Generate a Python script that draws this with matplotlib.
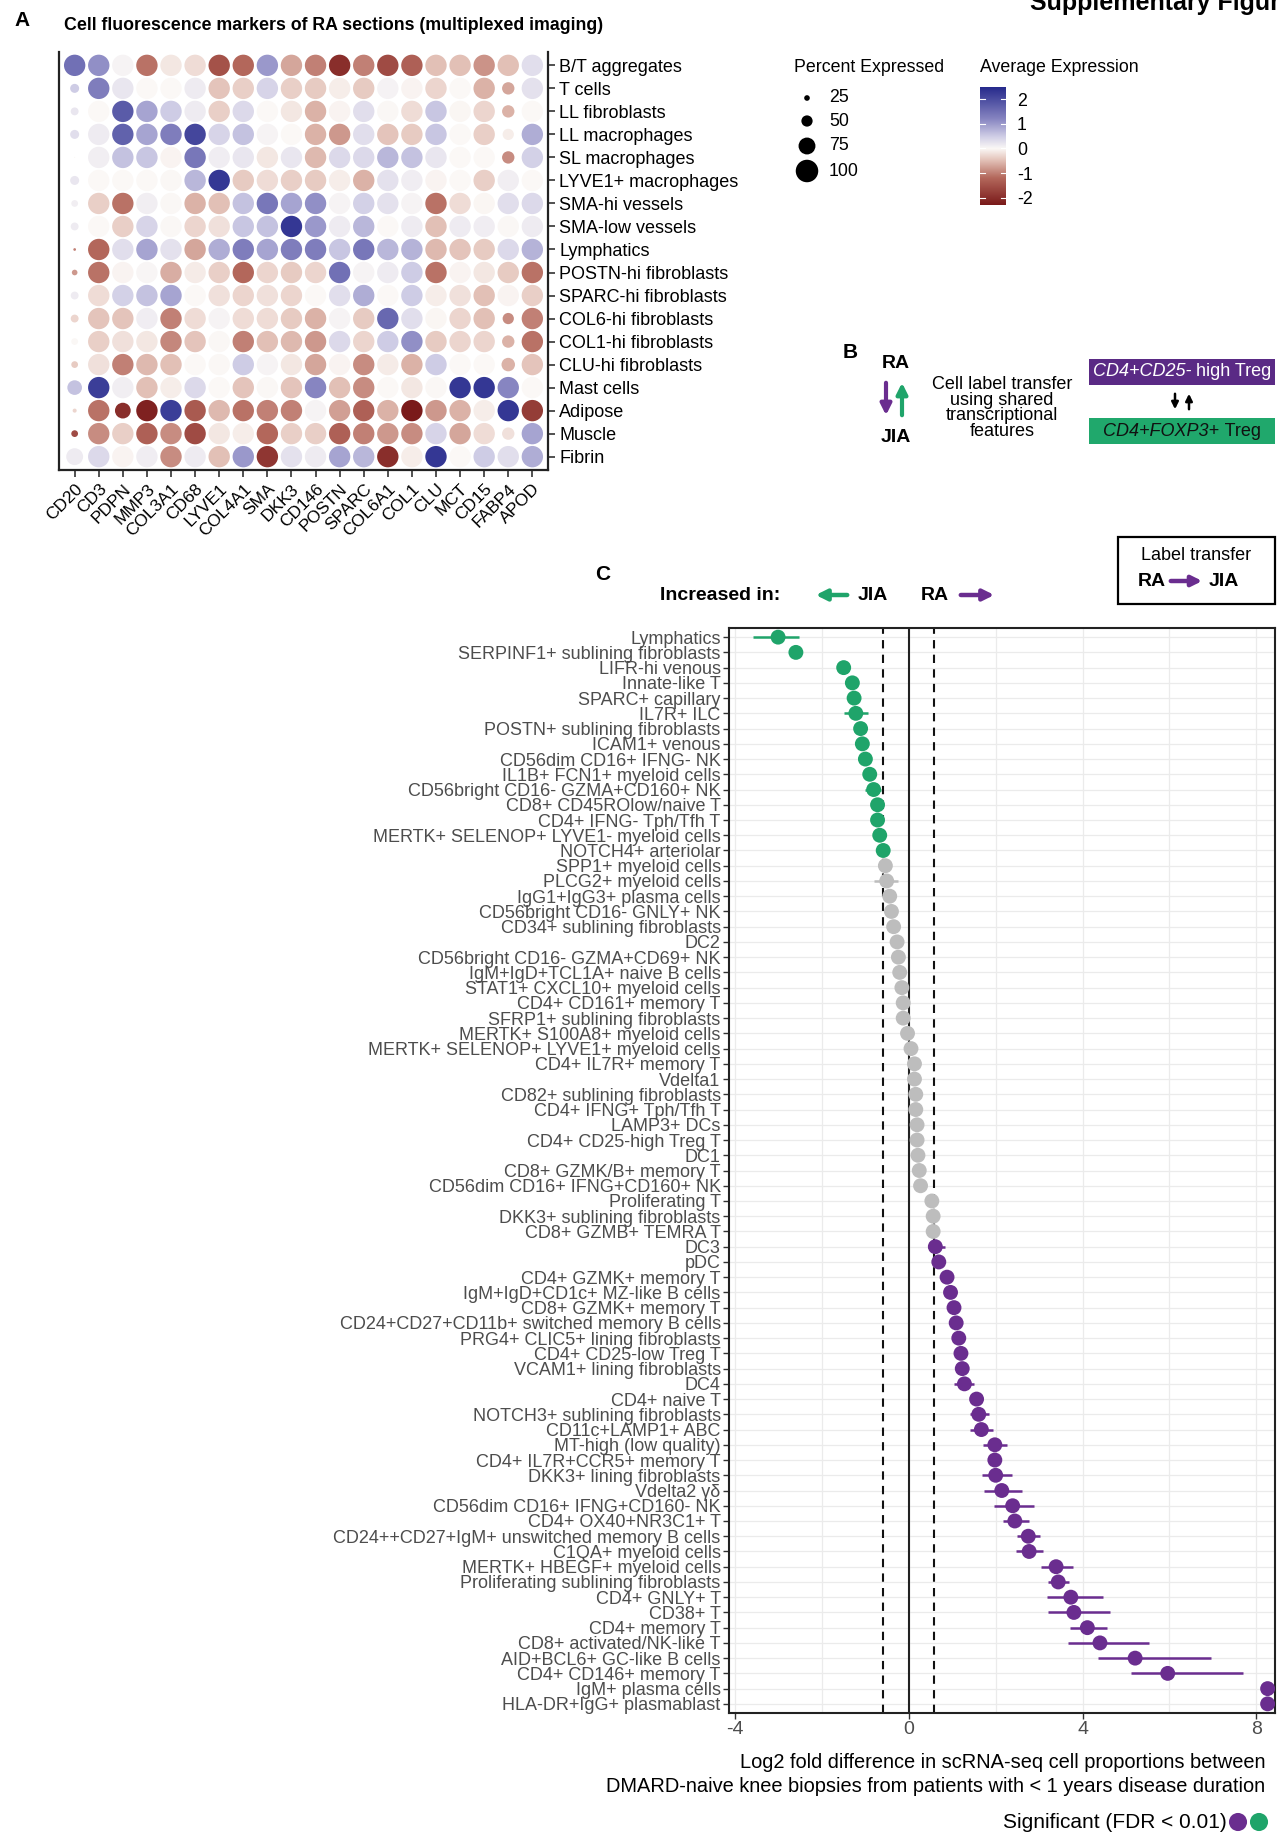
import matplotlib
matplotlib.use("Agg")
import matplotlib.pyplot as plt
import numpy as np
from matplotlib.colors import LinearSegmentedColormap, Normalize
from matplotlib.patches import Rectangle

plt.rcParams['font.family'] = ['Liberation Sans', 'DejaVu Sans']

# ---------------- Panel A data: marker dot plot ----------------
markers = ["CD20", "CD3", "PDPN", "MMP3", "COL3A1", "CD68", "LYVE1", "COL4A1", "SMA", "DKK3",
           "CD146", "POSTN", "SPARC", "COL6A1", "COL1", "CLU", "MCT", "CD15", "FABP4", "APOD"]
clusters = ["B/T aggregates", "T cells", "LL fibroblasts", "LL macrophages", "SL macrophages",
            "LYVE1+ macrophages", "SMA-hi vessels", "SMA-low vessels", "Lymphatics",
            "POSTN-hi fibroblasts", "SPARC-hi fibroblasts", "COL6-hi fibroblasts",
            "COL1-hi fibroblasts", "CLU-hi fibroblasts", "Mast cells", "Adipose", "Muscle", "Fibrin"]

avg_expr = [
    [1.5, 1.1, 0.05, -1.1, -0.15, -0.25, -1.5, -1.2, 1.0, -0.7, -1.0, -2.0, -1.0, -1.6, -1.3, -0.5, -0.5, -0.85, -0.5, 0.3],
    [0.5, 1.3, 0.2, 0.0, 0.0, 0.15, -0.45, -0.35, 0.4, -0.35, -0.4, -0.1, -0.4, 0.08, -0.05, -0.3, 0.0, -0.6, -0.7, 0.25],
    [0.2, 0.0, 1.8, 0.9, 0.5, 0.15, -0.35, 0.35, 0.0, -0.15, -0.6, -0.05, 0.3, 0.02, -0.25, 0.55, -0.03, -0.3, -0.6, 0.0],
    [0.3, 0.15, 1.7, 0.9, 1.3, 2.1, 0.4, 0.6, 0.05, 0.0, -0.6, -0.8, 0.3, -0.45, -0.4, 0.55, 0.0, -0.35, -0.1, 0.8],
    [0.0, 0.1, 0.6, 0.55, -0.05, 1.4, 0.12, 0.2, -0.15, 0.2, -0.55, 0.35, 0.35, 0.7, 0.6, 0.2, 0.0, 0.0, -0.9, 0.45],
    [0.2, 0.0, 0.0, 0.0, 0.02, 0.7, 2.3, -0.4, -0.25, -0.35, -0.4, -0.1, -0.6, 0.25, 0.12, -0.05, 0.0, -0.35, 0.1, 0.0],
    [0.1, -0.35, -1.1, 0.1, 0.02, -0.6, -0.5, 0.6, 1.4, 0.9, 1.1, 0.05, 0.45, 0.25, 0.05, -1.1, -0.25, -0.03, 0.3, 0.35],
    [0.15, 0.0, -0.35, 0.4, 0.02, -0.3, -0.2, 0.55, 0.6, 2.3, 1.0, 0.15, 0.7, 0.0, 0.15, -0.5, 0.15, 0.12, 0.02, 0.15],
    [-1.0, -1.2, 0.3, 0.9, 0.25, -0.7, 0.8, 1.3, 0.9, 1.3, 1.3, 0.55, 1.4, 0.7, 0.75, -0.55, -0.45, -0.4, 0.35, 0.75],
    [-0.8, -1.1, -0.05, 0.03, -0.65, -0.12, -0.35, -1.2, -0.3, -0.4, -0.3, 1.5, 0.05, 0.15, 0.5, -1.1, -0.05, -0.15, -0.4, -1.1],
    [0.15, -0.25, 0.45, 0.6, 0.9, 0.0, -0.2, -0.3, -0.2, -0.3, 0.0, 0.3, 0.8, 0.0, 0.5, -0.1, -0.2, -0.5, -0.05, -0.35],
    [-0.3, -0.45, -0.45, 0.12, -1.0, -0.25, 0.05, -0.25, -0.25, -0.4, -0.6, 0.05, -0.4, 1.6, 0.3, -0.03, -0.3, -0.5, -0.9, -1.0],
    [0.02, -0.35, -0.2, -0.15, -0.95, -0.45, 0.02, -1.0, -0.5, -0.55, -0.8, 0.35, -0.3, 0.5, 1.1, -0.4, -0.3, -0.3, -0.6, -1.1],
    [-0.4, -0.2, -1.0, -0.55, -0.5, 0.0, 0.02, 0.5, 0.05, -0.15, -0.7, -0.05, -0.9, -0.12, -0.6, 0.5, 0.0, 0.0, -0.6, -0.45],
    [0.6, 2.2, 0.1, -0.5, -0.1, 0.35, 0.0, -0.45, 0.02, -0.45, 1.2, -0.5, -0.9, 0.0, -0.15, 0.02, 2.3, 2.3, 1.2, 0.0],
    [-0.3, -1.1, -2.0, -2.2, 2.2, -1.4, -0.55, -1.1, -1.0, -1.0, 0.05, -0.75, -1.3, -0.6, -2.3, -0.8, -0.6, -0.1, 2.3, -1.8],
    [-1.6, -0.9, -0.35, -1.3, -0.9, -1.6, -0.15, -0.1, -1.2, -0.35, -0.35, -1.3, -1.0, -0.8, -0.9, 0.4, -0.7, -0.25, -0.2, 0.9],
    [0.15, 0.35, -0.05, 0.12, -0.9, 0.15, -0.5, 1.0, -1.9, 0.25, 0.15, 0.9, 0.7, -2.0, -0.1, 2.3, 0.0, 0.5, 0.3, 0.8],
]

pct_expr = [
    [95, 95, 95, 95, 95, 95, 95, 95, 95, 95, 95, 95, 95, 95, 95, 95, 95, 95, 95, 95],
    [40, 95, 95, 95, 95, 95, 95, 95, 95, 95, 95, 95, 95, 95, 95, 95, 95, 95, 55, 95],
    [35, 95, 95, 95, 95, 95, 95, 95, 95, 95, 95, 95, 95, 95, 95, 95, 95, 95, 55, 95],
    [40, 95, 95, 95, 95, 95, 95, 95, 95, 95, 95, 95, 95, 95, 95, 95, 95, 95, 50, 95],
    [5, 95, 95, 95, 95, 95, 95, 95, 95, 95, 95, 95, 95, 95, 95, 95, 95, 95, 55, 95],
    [40, 95, 95, 95, 95, 95, 95, 95, 95, 95, 95, 95, 95, 95, 95, 95, 95, 95, 95, 95],
    [30, 95, 95, 95, 95, 95, 95, 95, 95, 95, 95, 95, 95, 95, 95, 95, 95, 95, 95, 95],
    [35, 95, 95, 95, 95, 95, 95, 95, 95, 95, 95, 95, 95, 95, 95, 95, 95, 95, 95, 95],
    [12, 95, 95, 95, 95, 95, 95, 95, 95, 95, 95, 95, 95, 95, 95, 95, 95, 95, 95, 95],
    [25, 95, 95, 95, 95, 95, 95, 95, 95, 95, 95, 95, 95, 95, 95, 95, 95, 95, 95, 95],
    [35, 95, 95, 95, 95, 95, 95, 95, 95, 95, 95, 95, 95, 95, 95, 95, 95, 95, 95, 95],
    [35, 95, 95, 95, 95, 95, 95, 95, 95, 95, 95, 95, 95, 95, 95, 95, 95, 95, 50, 95],
    [30, 95, 95, 95, 95, 95, 95, 95, 95, 95, 95, 95, 95, 95, 95, 95, 95, 95, 55, 95],
    [30, 95, 95, 95, 95, 95, 95, 95, 95, 95, 95, 95, 95, 95, 95, 95, 95, 95, 60, 95],
    [65, 95, 95, 95, 95, 95, 95, 95, 95, 95, 95, 95, 95, 95, 95, 95, 95, 95, 95, 95],
    [18, 95, 70, 95, 95, 95, 95, 95, 95, 95, 95, 95, 95, 95, 95, 95, 95, 95, 95, 95],
    [30, 95, 95, 95, 95, 95, 95, 95, 95, 95, 95, 95, 95, 95, 95, 95, 95, 95, 55, 95],
    [75, 95, 95, 95, 95, 95, 95, 95, 95, 95, 95, 95, 95, 95, 95, 95, 95, 95, 95, 95],
]

size_breaks = [25, 50, 75, 100]
color_breaks = [2, 1, 0, -1, -2]

# ---------------- Panel C data: label-transfer abundance ----------------
cell_types = [
    "Lymphatics", "SERPINF1+ sublining fibroblasts", "LIFR-hi venous", "Innate-like T",
    "SPARC+ capillary", "IL7R+ ILC", "POSTN+ sublining fibroblasts", "ICAM1+ venous",
    "CD56dim CD16+ IFNG- NK", "IL1B+ FCN1+ myeloid cells", "CD56bright CD16- GZMA+CD160+ NK",
    "CD8+ CD45ROlow/naive T", "CD4+ IFNG- Tph/Tfh T", "MERTK+ SELENOP+ LYVE1- myeloid cells",
    "NOTCH4+ arteriolar", "SPP1+ myeloid cells", "PLCG2+ myeloid cells", "IgG1+IgG3+ plasma cells",
    "CD56bright CD16- GNLY+ NK", "CD34+ sublining fibroblasts", "DC2",
    "CD56bright CD16- GZMA+CD69+ NK", "IgM+IgD+TCL1A+ naive B cells", "STAT1+ CXCL10+ myeloid cells",
    "CD4+ CD161+ memory T", "SFRP1+ sublining fibroblasts", "MERTK+ S100A8+ myeloid cells",
    "MERTK+ SELENOP+ LYVE1+ myeloid cells", "CD4+ IL7R+ memory T", "Vdelta1",
    "CD82+ sublining fibroblasts", "CD4+ IFNG+ Tph/Tfh T", "LAMP3+ DCs", "CD4+ CD25-high Treg T",
    "DC1", "CD8+ GZMK/B+ memory T", "CD56dim CD16+ IFNG+CD160+ NK", "Proliferating T",
    "DKK3+ sublining fibroblasts", "CD8+ GZMB+ TEMRA T", "DC3", "pDC", "CD4+ GZMK+ memory T",
    "IgM+IgD+CD1c+ MZ-like B cells", "CD8+ GZMK+ memory T", "CD24+CD27+CD11b+ switched memory B cells",
    "PRG4+ CLIC5+ lining fibroblasts", "CD4+ CD25-low Treg T", "VCAM1+ lining fibroblasts", "DC4",
    "CD4+ naive T", "NOTCH3+ sublining fibroblasts", "CD11c+LAMP1+ ABC", "MT-high (low quality)",
    "CD4+ IL7R+CCR5+ memory T", "DKK3+ lining fibroblasts", "Vdelta2 γδ",
    "CD56dim CD16+ IFNG+CD160- NK", "CD4+ OX40+NR3C1+ T", "CD24++CD27+IgM+ unswitched memory B cells",
    "C1QA+ myeloid cells", "MERTK+ HBEGF+ myeloid cells", "Proliferating sublining fibroblasts",
    "CD4+ GNLY+ T", "CD38+ T", "CD4+ memory T", "CD8+ activated/NK-like T",
    "AID+BCL6+ GC-like B cells", "CD4+ CD146+ memory T", "IgM+ plasma cells", "HLA-DR+IgG+ plasmablast",
]

log2_fd = [
    -3.01, -2.60, -1.50, -1.30, -1.26, -1.22, -1.11, -1.07, -1.00, -0.90,
    -0.81, -0.72, -0.72, -0.67, -0.59, -0.54, -0.51, -0.44, -0.40, -0.35,
    -0.27, -0.24, -0.21, -0.16, -0.13, -0.13, -0.03, 0.05, 0.13, 0.13,
    0.16, 0.16, 0.19, 0.19, 0.21, 0.24, 0.27, 0.53, 0.56, 0.56,
    0.61, 0.69, 0.88, 0.96, 1.04, 1.09, 1.15, 1.20, 1.23, 1.28,
    1.56, 1.61, 1.67, 1.98, 1.98, 2.00, 2.14, 2.39, 2.44, 2.75,
    2.77, 3.39, 3.44, 3.73, 3.80, 4.11, 4.40, 5.21, 5.96, 8.26, 8.26,
]

ci_low = [
    -3.59, -2.70, -1.60, -1.40, -1.36, -1.50, -1.21, -1.17, -1.10, -1.00,
    -1.00, -0.82, -0.82, -0.77, -0.69, -0.64, -0.81, -0.54, -0.50, -0.45,
    -0.37, -0.34, -0.31, -0.26, -0.23, -0.23, -0.13, -0.05, 0.03, 0.03,
    0.06, 0.06, 0.09, 0.09, 0.11, 0.14, 0.17, 0.43, 0.46, 0.46,
    0.43, 0.59, 0.78, 0.86, 0.94, 0.99, 1.05, 1.10, 1.13, 1.05,
    1.46, 1.41, 1.41, 1.71, 1.88, 1.69, 1.72, 1.96, 2.17, 2.48,
    2.46, 3.04, 3.21, 3.17, 3.21, 3.72, 3.66, 4.35, 5.11, 8.16, 8.16,
]

ci_high = [
    -2.53, -2.50, -1.40, -1.20, -1.16, -0.95, -1.01, -0.97, -0.90, -0.80,
    -0.63, -0.62, -0.62, -0.57, -0.49, -0.44, -0.24, -0.34, -0.30, -0.25,
    -0.17, -0.14, -0.11, -0.06, -0.03, -0.03, 0.07, 0.15, 0.23, 0.23,
    0.26, 0.26, 0.29, 0.29, 0.31, 0.34, 0.37, 0.63, 0.66, 0.66,
    0.83, 0.79, 0.98, 1.06, 1.14, 1.19, 1.25, 1.30, 1.33, 1.50,
    1.66, 1.84, 1.93, 2.27, 2.08, 2.37, 2.60, 2.88, 2.76, 3.02,
    3.10, 3.79, 3.69, 4.47, 4.62, 4.56, 5.54, 6.95, 7.70, 8.36, 8.36,
]

significant = [True] * 15 + [False] * 25 + [True] * 31

GREEN = "#1fa46a"
PURPLE = "#6a2d8f"
GREY = "#bdbdbd"

# ---------------- figure scaffolding (pixel helpers) ----------------
W, H = 1278, 1832
fig = plt.figure(figsize=(W / 100, H / 100), dpi=100)


def ax_box(x0, y0, x1, y1):
    return [x0 / W, 1 - y1 / H, (x1 - x0) / W, (y1 - y0) / H]


over = fig.add_axes([0, 0, 1, 1], zorder=5)
over.set_xlim(0, W)
over.set_ylim(H, 0)
over.axis("off")
over.patch.set_alpha(0)

# page header running off the top edge
over.text(1030, 10, "Supplementary Figure", fontsize=18, fontweight="bold",
          ha="left", va="baseline", clip_on=True)

# ---------------- Panel A ----------------
cmap = LinearSegmentedColormap.from_list(
    "expr",
    [(0.0, "#7a1a1a"), (0.23, "#b4685c"), (0.38, "#e3c2b8"), (0.479, "#fbf8f6"),
     (0.58, "#d0cee6"), (0.73, "#8785c1"), (1.0, "#262a8c")])
norm = Normalize(vmin=-2.3, vmax=2.5)


def size_pts(pct):
    d_px = 0.225 * np.asarray(pct, dtype=float)
    return (d_px * 0.72) ** 2


ax_a = fig.add_axes(ax_box(59, 52, 548, 470))
expr = np.array(avg_expr)
pct = np.array(pct_expr)
xx, yy = np.meshgrid(np.arange(1, len(markers) + 1), np.arange(1, len(clusters) + 1))
ax_a.scatter(xx.ravel(), yy.ravel(), s=size_pts(pct.ravel()), c=expr.ravel(),
             cmap=cmap, norm=norm, edgecolors="none", zorder=3)
ax_a.set_xlim(0.35, len(markers) + 0.65)
ax_a.set_ylim(len(clusters) + 0.58, 0.42)
ax_a.set_xticks(np.arange(1, len(markers) + 1))
ax_a.set_xticklabels(markers, rotation=45, ha="right", va="top", rotation_mode="anchor", fontsize=12.5)
ax_a.yaxis.tick_right()
ax_a.set_yticks(np.arange(1, len(clusters) + 1))
ax_a.set_yticklabels(clusters, fontsize=13)
ax_a.tick_params(axis="both", length=5, width=1.1, color="#222222", pad=3)
ax_a.spines["top"].set_visible(False)
for s in ["left", "right", "bottom"]:
    ax_a.spines[s].set_linewidth(1.6)
    ax_a.spines[s].set_color("#222222")

over.text(14, 21, "A", fontsize=15, fontweight="bold", ha="left", va="center")
over.text(64, 26, "Cell fluorescence markers of RA sections (multiplexed imaging)",
          fontsize=12.8, fontweight="bold", ha="left", va="center")

# size legend
over.text(794, 67, "Percent Expressed", fontsize=12.8, ha="left", va="center")
for yv, b in zip([98, 121, 146, 171], size_breaks):
    over.scatter([807], [yv], s=size_pts([b]), c="black", edgecolors="none")
    over.text(829, yv, str(b), fontsize=12.8, ha="left", va="center")

# colour bar
over.text(980, 67, "Average Expression", fontsize=12.8, ha="left", va="center")
ax_cb = fig.add_axes(ax_box(980, 87, 1006, 205))
grad = np.linspace(norm.vmax, norm.vmin, 256).reshape(-1, 1)
ax_cb.imshow(grad, aspect="auto", cmap=cmap, norm=norm,
             extent=[0, 1, norm.vmin, norm.vmax], origin="upper")
ax_cb.set_xlim(0, 1)
ax_cb.set_ylim(norm.vmin, norm.vmax)
ax_cb.set_xticks([])
ax_cb.yaxis.tick_right()
ax_cb.set_yticks(color_breaks)
ax_cb.set_yticklabels([str(v) for v in color_breaks], fontsize=12.8)
ax_cb.tick_params(axis="y", length=0, pad=8)
for v in color_breaks:
    ax_cb.plot([0, 0.2], [v, v], color="white", lw=0.8)
    ax_cb.plot([0.8, 1], [v, v], color="white", lw=0.8)
for s in ax_cb.spines.values():
    s.set_visible(False)

# ---------------- Panel B ----------------
renderer = fig.canvas.get_renderer()


def centred_mixed(x, y, parts, color, size):
    items = [over.text(0, y, txt, fontstyle=st, fontsize=size, color=color,
                       ha="left", va="center", zorder=7) for txt, st in parts]
    inv = over.transData.inverted()
    widths = []
    for t in items:
        bb = t.get_window_extent(renderer)
        p0 = inv.transform((bb.x0, bb.y0))
        p1 = inv.transform((bb.x1, bb.y1))
        widths.append(p1[0] - p0[0])
    cur = x - sum(widths) / 2
    for t, w in zip(items, widths):
        t.set_x(cur)
        cur += w


over.text(850, 352, "B", fontsize=15, fontweight="bold", ha="center", va="center")
over.text(896, 363, "RA", fontsize=14, fontweight="bold", ha="center", va="center")
over.text(896, 437, "JIA", fontsize=14, fontweight="bold", ha="center", va="center")
over.annotate("", xy=(886, 418), xytext=(886, 380),
              arrowprops=dict(arrowstyle="-|>", color=PURPLE, lw=3, mutation_scale=16))
over.annotate("", xy=(902, 380), xytext=(902, 418),
              arrowprops=dict(arrowstyle="-|>", color=GREEN, lw=3, mutation_scale=16))
over.text(1002, 408, "Cell label transfer\nusing shared\ntranscriptional\nfeatures",
          fontsize=13, ha="center", va="center", linespacing=0.92)
over.add_patch(Rectangle((1089, 359), 186, 26, facecolor="#5a2a85", edgecolor="none"))
centred_mixed(1182, 372, [("CD4+CD25-", "italic"), (" high Treg", "normal")], "white", 13)
over.annotate("", xy=(1175, 412), xytext=(1175, 391),
              arrowprops=dict(arrowstyle="-|>", color="black", lw=1.8, mutation_scale=10))
over.annotate("", xy=(1189, 391), xytext=(1189, 412),
              arrowprops=dict(arrowstyle="-|>", color="black", lw=1.8, mutation_scale=10))
over.add_patch(Rectangle((1089, 418), 186, 26, facecolor="#20a86c", edgecolor="none"))
centred_mixed(1182, 431, [("CD4+FOXP3+", "italic"), (" Treg", "normal")], "#111111", 13)

# ---------------- Panel C ----------------
over.text(603, 575, "C", fontsize=15, fontweight="bold", ha="center", va="center")
over.text(660, 595, "Increased in:", fontsize=14, fontweight="bold", ha="left", va="center")
over.annotate("", xy=(813, 595), xytext=(850, 595),
              arrowprops=dict(arrowstyle="-|>", color=GREEN, lw=3.2, mutation_scale=16))
over.text(858, 596, "JIA", fontsize=14, fontweight="bold", ha="left", va="center")
over.text(921, 596, "RA", fontsize=14, fontweight="bold", ha="left", va="center")
over.annotate("", xy=(997, 595), xytext=(958, 595),
              arrowprops=dict(arrowstyle="-|>", color=PURPLE, lw=3.2, mutation_scale=16))

over.add_patch(Rectangle((1118, 537), 157, 67, facecolor="none", edgecolor="black", lw=1.6))
over.text(1196, 555, "Label transfer", fontsize=13, ha="center", va="center")
over.text(1138, 581, "RA", fontsize=14, fontweight="bold", ha="left", va="center")
over.annotate("", xy=(1205, 581), xytext=(1168, 581),
              arrowprops=dict(arrowstyle="-|>", color=PURPLE, lw=3.2, mutation_scale=15))
over.text(1209, 581, "JIA", fontsize=14, fontweight="bold", ha="left", va="center")

ax_c = fig.add_axes(ax_box(729, 628, 1275, 1713))
n = len(cell_types)
rows = np.arange(1, n + 1)
cols = [GREY if not sig else (GREEN if v < 0 else PURPLE) for v, sig in zip(log2_fd, significant)]
for r, lo, hi, c in zip(rows, ci_low, ci_high, cols):
    ax_c.plot([lo, hi], [r, r], color=c, lw=1.8, solid_capstyle="butt", zorder=3)
ax_c.scatter(log2_fd, rows, s=115, c=cols, edgecolors="none", zorder=4)
ax_c.axvline(0, color="#222222", lw=1.5, zorder=2)
ax_c.axvline(-np.log2(1.5), color="#111111", lw=1.5, ls=(0, (4, 3)), zorder=2)
ax_c.axvline(np.log2(1.5), color="#111111", lw=1.5, ls=(0, (4, 3)), zorder=2)
ax_c.set_xlim(-4.14, 8.43)
ax_c.set_ylim(n + 0.6, 0.4)
ax_c.set_xticks([-4, 0, 4, 8])
ax_c.set_xticklabels(["-4", "0", "4", "8"], fontsize=14, color="#4d4d4d")
ax_c.set_xticks([-2, 2, 6], minor=True)
ax_c.set_yticks(rows)
ax_c.set_yticklabels(cell_types, fontsize=13, color="#4d4d4d")
ax_c.tick_params(axis="both", which="major", length=4, width=1.0, color="#333333", pad=2)
ax_c.tick_params(axis="x", which="minor", length=0)
ax_c.grid(True, axis="x", which="both", color="#ebebeb", lw=0.9)
ax_c.grid(True, axis="y", which="major", color="#ebebeb", lw=0.9)
ax_c.set_axisbelow(True)
for s in ax_c.spines.values():
    s.set_linewidth(1.5)
    s.set_color("#222222")

over.text(1265, 1763, "Log2 fold difference in scRNA-seq cell proportions between",
          fontsize=14.4, ha="right", va="center")
over.text(1265, 1787, "DMARD-naive knee biopsies from patients with < 1 years disease duration",
          fontsize=14.4, ha="right", va="center")
over.text(1227, 1822, "Significant (FDR < 0.01)", fontsize=15, ha="right", va="center")
over.scatter([1238, 1259], [1822, 1822], s=170, c=[PURPLE, GREEN], edgecolors="none")

fig.savefig("out.png", dpi=100)
